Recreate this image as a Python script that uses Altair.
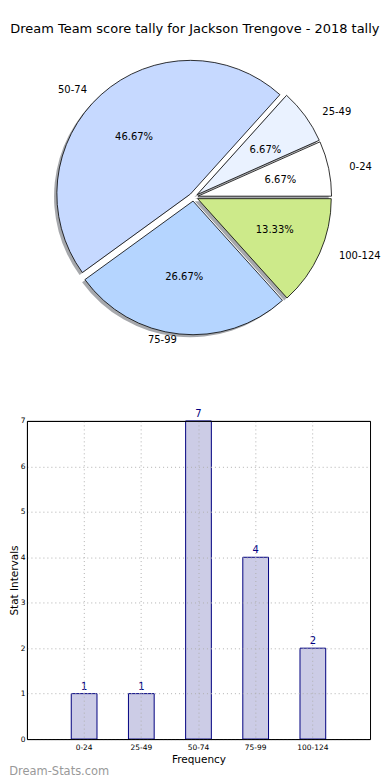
import math
import altair as alt
import pandas as pd

# ---- data ----
labels = ["0-24", "25-49", "50-74", "75-99", "100-124"]
counts = [1, 1, 7, 4, 2]
pie_colors = ["#ffffff", "#eaf2ff", "#c6d9ff", "#b5d5ff", "#cdea8a"]
title_text = "Dream Team score tally for Jackson Trengove - 2018 tally"
y_ticks = [0, 1, 2, 3, 4, 5, 6, 7]

df = pd.DataFrame({"idx": list(range(len(labels))), "label": labels, "count": counts})
total = sum(counts)

FONT = "DejaVu Sans"
EXPLODE = 0.032        # explode distance, in radius units
SHADOW = 0.02          # shadow offset, in radius units
R_PX = 134             # drawn radius of the pie in px

# pie coordinate frame (radius units), chosen so the pie sits like the original
PIE_W, PIE_H = 344, 350
x_dom = [-1.1844, 1.2553]
y_dom = [-1.5804, 1.1647]

base = (
    alt.Chart(df)
    .transform_joinaggregate(total="sum(count)")
    .transform_window(cum="sum(count)", sort=[alt.SortField("idx")], frame=[None, 0])
    .transform_calculate(
        t0="datum.total - datum.cum",
        t1="datum.total - datum.cum + datum.count",
        mid="2*PI*(datum.cum - datum.count/2)/datum.total",
        ex=f"{EXPLODE}*cos(datum.mid)",
        ey=f"{EXPLODE}*sin(datum.mid)",
        sx=f"{EXPLODE}*cos(datum.mid) - {SHADOW}",
        sy=f"{EXPLODE}*sin(datum.mid) - {SHADOW}",
        lx=f"({EXPLODE}+1.1)*cos(datum.mid)",
        ly=f"({EXPLODE}+1.1)*sin(datum.mid)",
        px=f"({EXPLODE}+0.6)*cos(datum.mid)",
        py=f"({EXPLODE}+0.6)*sin(datum.mid)",
        pct="format(100*datum.count/datum.total, '.2f') + '%'",
        side="cos(datum.mid) >= 0 ? 'L' : 'R'",
    )
)

xs = alt.Scale(domain=x_dom, nice=False, zero=False)
ys = alt.Scale(domain=y_dom, nice=False, zero=False)
th = alt.Scale(domain=[0, total], range=[math.pi / 2, 5 * math.pi / 2], nice=False)

shadow = base.mark_arc(outerRadius=R_PX, fill="#a6a8ac").encode(
    x=alt.X("sx:Q", scale=xs, axis=None),
    y=alt.Y("sy:Q", scale=ys, axis=None),
    theta=alt.Theta("t0:Q", scale=th),
    theta2="t1:Q",
)

wedges = base.mark_arc(outerRadius=R_PX, stroke="black", strokeWidth=0.8).encode(
    x=alt.X("ex:Q", scale=xs, axis=None),
    y=alt.Y("ey:Q", scale=ys, axis=None),
    theta=alt.Theta("t0:Q", scale=th),
    theta2="t1:Q",
    color=alt.Color("label:N", scale=alt.Scale(domain=labels, range=pie_colors), legend=None),
)

lab_left = base.transform_filter("datum.side == 'L'").mark_text(
    align="left", baseline="middle", fontSize=10, font=FONT, color="black"
).encode(
    x=alt.X("lx:Q", scale=xs, axis=None),
    y=alt.Y("ly:Q", scale=ys, axis=None),
    text="label:N",
)
lab_right = base.transform_filter("datum.side == 'R'").mark_text(
    align="right", baseline="middle", fontSize=10, font=FONT, color="black"
).encode(
    x=alt.X("lx:Q", scale=xs, axis=None),
    y=alt.Y("ly:Q", scale=ys, axis=None),
    text="label:N",
)
pct = base.mark_text(
    align="center", baseline="middle", fontSize=10, font=FONT, color="black"
).encode(
    x=alt.X("px:Q", scale=xs, axis=None),
    y=alt.Y("py:Q", scale=ys, axis=None),
    text="pct:N",
)

pie = alt.layer(shadow, wedges, lab_left, lab_right, pct).properties(
    width=PIE_W, height=PIE_H, view=alt.ViewBackground(stroke="transparent")
)

# ---- bar chart ----
top_test = f"datum.value == {y_ticks[-1]}"
bar_base = alt.Chart(df).encode(
    x=alt.X(
        "label:N",
        sort=labels,
        scale=alt.Scale(paddingInner=0.55, paddingOuter=0.775),
        axis=alt.Axis(
            title="Frequency", labelAngle=0, labelFontSize=7.5, labelFont=FONT,
            labelColor="black", grid=True, gridDash=[1, 3], gridColor="#b0b0b0",
            domainColor="black", ticks=False, labelPadding=4,
            titleFontSize=10.5, titleFont=FONT, titleFontWeight="normal",
            titleColor="black", titlePadding=4, zindex=1,
        ),
    ),
    y=alt.Y(
        "count:Q",
        scale=alt.Scale(domain=[y_ticks[0], y_ticks[-1]], nice=False),
        axis=alt.Axis(
            values=y_ticks, title="Stat Intervals", labelFontSize=7.5, labelFont=FONT,
            labelColor="black", grid=True,
            gridDash={"condition": {"test": top_test, "value": []}, "value": [1, 3]},
            gridColor={"condition": {"test": top_test, "value": "black"}, "value": "#b0b0b0"},
            domainColor="black", ticks=False, labelPadding=2,
            titleFontSize=10.5, titleFont=FONT, titleFontWeight="normal",
            titleColor="black", titlePadding=1, zindex=1,
        ),
    ),
)
bars = bar_base.mark_bar(fill="#ccccE6", stroke="#000080", strokeWidth=1)
vals = bar_base.mark_text(
    baseline="alphabetic", dy=-4, fontSize=10, font=FONT, color="#000080"
).encode(text="count:Q")

bar_chart = alt.layer(bars, vals).properties(
    width=PIE_W,
    height=319,
    view=alt.ViewBackground(stroke="black", strokeWidth=1),
    title=alt.TitleParams(
        "Dream-Stats.com", orient="bottom", anchor="start", frame="bounds",
        fontSize=11.5, font=FONT, fontWeight="normal", color="#999999", offset=1,
    ),
)

chart = (
    alt.vconcat(pie, bar_chart, spacing=9)
    .properties(
        title=alt.TitleParams(
            title_text, fontSize=13, font=FONT, fontWeight="normal",
            color="black", anchor="middle", offset=12,
        ),
        padding={"left": 0, "top": 14, "right": 0, "bottom": 0},
    )
    .configure(font=FONT)
)

chart.save("out.html", embed_options={"renderer": "svg", "actions": False})
